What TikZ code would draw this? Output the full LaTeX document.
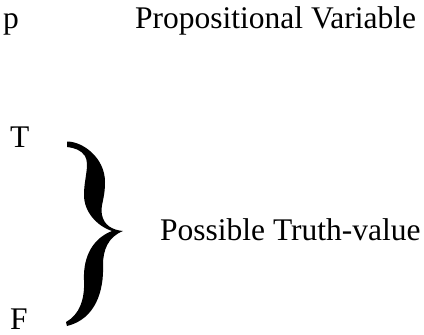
\documentclass[tikz,border=0pt]{standalone}
\usepackage{fontspec}
\setmainfont{Liberation Serif}
\begin{document}
\begin{tikzpicture}[x=1pt,y=-1pt,
  lbl/.style={anchor=base west,inner sep=0pt,font=\fontsize{31.5}{38}\selectfont}]
\useasboundingbox (0,0) rectangle (424,335);
\node[lbl] (p) at (3,28) {p};
\node[lbl] (pv) at (135,28) {Propositional Variable};
\node[lbl] (t) at (10,147) {T};
\node[lbl,text depth=0pt] (f) at (10,329) {F};
\node[lbl] (ptv) at (160,240) {Possible Truth-value};
% brace
\fill[black] (67,141.5) .. controls (83,141.5) and (105,158) .. (105,182)
  .. controls (105,200) and (100,205) .. (102,215)
  .. controls (104,225) and (112,230) .. (123,231)
  .. controls (108,237) and (103,250) .. (103,265)
  .. controls (104,290) and (96,319) .. (67,326)
  -- (66,322)
  .. controls (79,315) and (85,300) .. (84,280)
  .. controls (83,255) and (94,238) .. (112,231)
  .. controls (97,226) and (84,212) .. (84,195)
  .. controls (84,178) and (90,165) .. (85,156)
  .. controls (81,150) and (75,148) .. (67,147) -- cycle;
\end{tikzpicture}
\end{document}
